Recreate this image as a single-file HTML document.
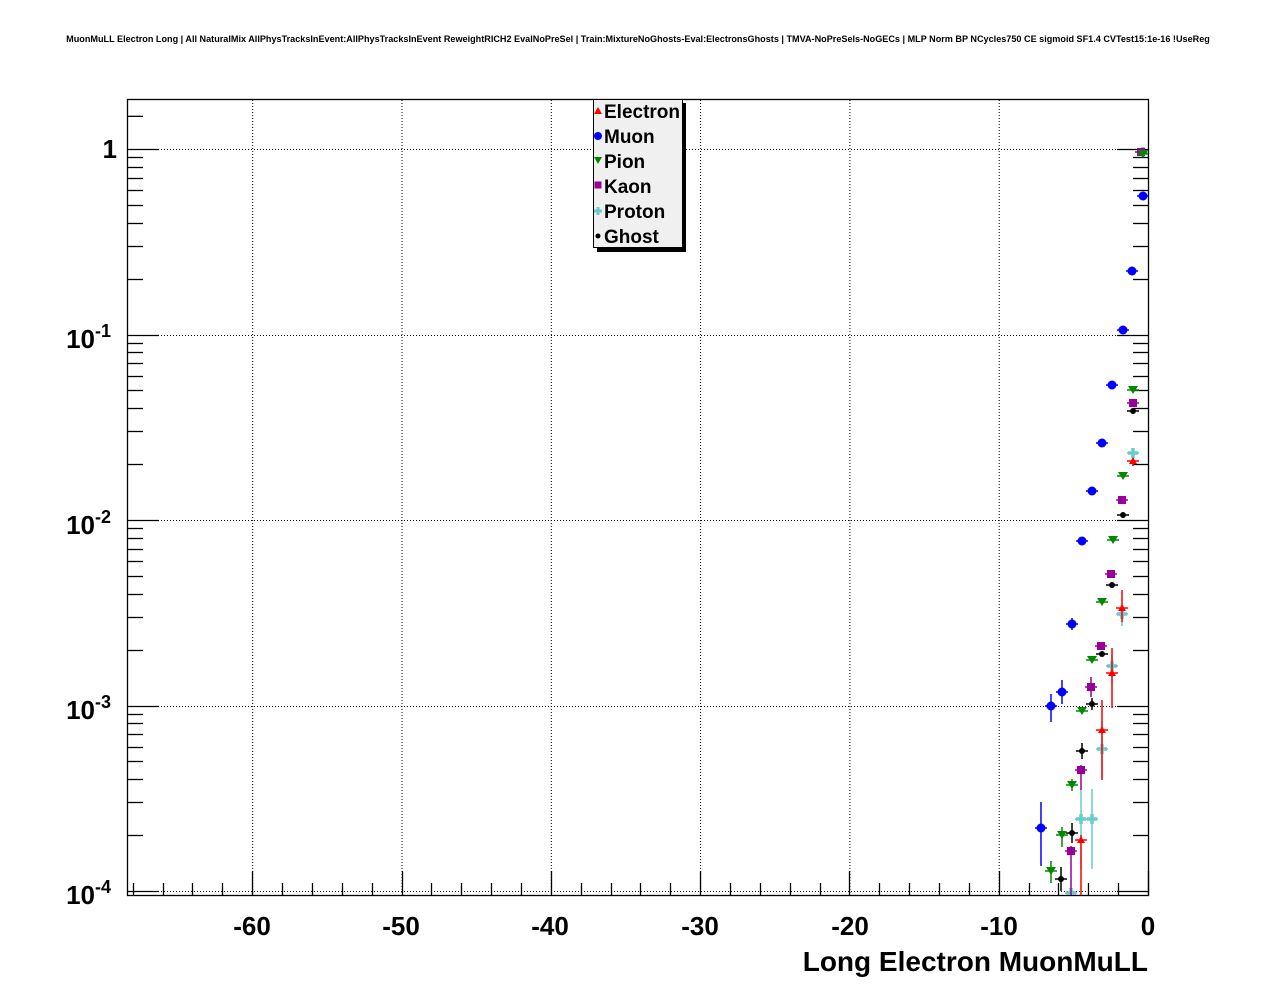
<!DOCTYPE html>
<html><head><meta charset="utf-8"><style>
body{margin:0;background:#fff;}
svg{display:block;font-family:"Liberation Sans",sans-serif;font-weight:bold;}
</style></head><body>
<svg id="s" width="1276" height="996" xmlns="http://www.w3.org/2000/svg">
<defs><clipPath id="cp"><rect x="128" y="100" width="1020" height="795"/></clipPath></defs>
<rect width="1276" height="996" fill="#fff"/>
<text x="638" y="42" font-size="9.1" text-anchor="middle">MuonMuLL Electron Long | All NaturalMix AllPhysTracksInEvent:AllPhysTracksInEvent ReweightRICH2 EvalNoPreSel | Train:MixtureNoGhosts-Eval:ElectronsGhosts | TMVA-NoPreSels-NoGECs | MLP Norm BP NCycles750 CE sigmoid SF1.4 CVTest15:1e-16 !UseReg</text>
<g id="grid" stroke="#000" stroke-width="1" stroke-dasharray="1,2"></g>
<g id="ticks" stroke="#000" stroke-width="1.3"></g>
<rect x="127.5" y="99.5" width="1021" height="796" fill="none" stroke="#000" stroke-width="1.3"/>
<g font-size="26" text-anchor="middle">
<text x="252" y="935">-60</text><text x="401" y="935">-50</text><text x="550" y="935">-40</text><text x="700" y="935">-30</text><text x="850" y="935">-20</text><text x="999" y="935">-10</text><text x="1148" y="935">0</text>
</g>
<text x="1148" y="971" font-size="28" text-anchor="end">Long Electron MuonMuLL</text>
<g font-size="26" text-anchor="end">
<text x="117" y="158">1</text>
<text x="111" y="348">10<tspan font-size="18" dy="-11">-1</tspan></text>
<text x="111" y="534">10<tspan font-size="18" dy="-11">-2</tspan></text>
<text x="111" y="719">10<tspan font-size="18" dy="-11">-3</tspan></text>
<text x="111" y="904">10<tspan font-size="18" dy="-11">-4</tspan></text>
</g>
<g id="data" clip-path="url(#cp)"></g>
<rect x="597" y="103" width="89" height="149" fill="#000"/>
<rect x="593.5" y="99.5" width="89" height="148" fill="#f0f0f0" stroke="#000"/>
<g font-size="19">
<text x="604" y="118">Electron</text><text x="604" y="143">Muon</text><text x="604" y="168">Pion</text>
<text x="604" y="193">Kaon</text><text x="604" y="218">Proton</text><text x="604" y="243">Ghost</text>
</g>
<polygon points="594,114 602,114 598,107" fill="#f00"/>
<circle cx="598" cy="136" r="4" fill="#00f"/>
<polygon points="594,157 602,157 598,164" fill="#080"/>
<rect x="594.5" y="181.5" width="7" height="7" fill="#909"/>
<path d="M594,211h8M598,207v8" stroke="#6cc" stroke-width="3"/>
<circle cx="598" cy="236" r="2.5" fill="#000"/>
</svg>
<script>
const NS="http://www.w3.org/2000/svg";
function el(p,t,a){const e=document.createElementNS(NS,t);for(const k in a)e.setAttribute(k,a[k]);p.appendChild(e);return e;}
const g=document.getElementById('grid'),tk=document.getElementById('ticks'),d=document.getElementById('data');
const X=v=>1148+v*14.93, Y=v=>149-Math.log10(v)*185.5;
for(let v=-60;v<=-10;v+=10){el(g,'line',{x1:X(v)+.5,x2:X(v)+.5,y1:100,y2:895});}
[1,0.1,0.01,0.001,0.0001].forEach(v=>{el(g,'line',{x1:128,x2:1148,y1:Math.round(Y(v))+.5,y2:Math.round(Y(v))+.5});});
for(let v=-68;v<=0;v+=2){const x=Math.round(X(v))+.5;const L=(v%10==0)?24:12;el(tk,'line',{x1:x,x2:x,y1:895,y2:895-L});}
for(let e=-4;e<=0;e++)for(let m=1;m<10;m++){const v=m*Math.pow(10,e);const y=Math.round(Y(v))+.5;if(y<100||y>895)continue;const L=m==1?31:15;
el(tk,'line',{x1:128,x2:128+L,y1:y,y2:y});el(tk,'line',{x1:1148-L,x2:1148,y1:y,y2:y});}
el(tk,'line',{x1:128,x2:143,y1:Y(1.5),y2:Y(1.5)});
function mk(type,col,pts){pts.forEach(p=>{const[x,y,e1,e2]=p;
el(d,'line',{x1:x-6,x2:x+6,y1:y,y2:y,stroke:col,'stroke-width':1.5});
if(e1)el(d,'line',{x1:x,x2:x,y1:y-e1,y2:y+(e2||e1),stroke:col,'stroke-width':1.5});
if(type=='c')el(d,'circle',{cx:x,cy:y,r:4.5,fill:col});
if(type=='t')el(d,'polygon',{points:`${x-5},${y-4} ${x+5},${y-4} ${x},${y+4}`,fill:col});
if(type=='u')el(d,'polygon',{points:`${x-4},${y+3} ${x+4},${y+3} ${x},${y-4}`,fill:col});
if(type=='s')el(d,'rect',{x:x-4,y:y-4,width:8,height:8,fill:col});
if(type=='p')el(d,'path',{d:`M${x-5},${y}h10M${x},${y-5}v10`,stroke:col,'stroke-width':3.5});
if(type=='d')el(d,'circle',{cx:x,cy:y,r:3,fill:col});});}
mk('p','#66cccc',[[1143,152],[1133,453],[1122,614,8,12],[1112,666,12,20],[1102,749,28,30],[1092,819,30,50],[1081,819,30,50],[1071,893]]);
mk('u','#ff0000',[[1133,461,3,5],[1122,608,18,14],[1112,673,25,35],[1102,730,30,50],[1081,840,5,60]]);
mk('s','#990099',[[1141,152],[1133,403],[1122,500],[1111,574],[1101,646],[1091,687,10,10],[1081,770,5,20],[1071,851,5,50]]);
mk('d','#000000',[[1133,411],[1123,515],[1112,585],[1102,654],[1092,704,6,6],[1082,751,8,8],[1072,833,10,10],[1061,879,12,12]]);
mk('t','#008800',[[1143,154],[1133,390],[1123,476],[1113,540],[1102,602],[1092,660],[1082,711],[1072,785,6,6],[1062,835,8,12],[1051,871,10,12]]);
mk('c','#0000ff',[[1143,196],[1132,271],[1123,330],[1112,385],[1102,443],[1092,491],[1082,541],[1072,624,6,6],[1062,692,12,12],[1051,706,12,16],[1041,828,26,38]]);
</script>
</body></html>
